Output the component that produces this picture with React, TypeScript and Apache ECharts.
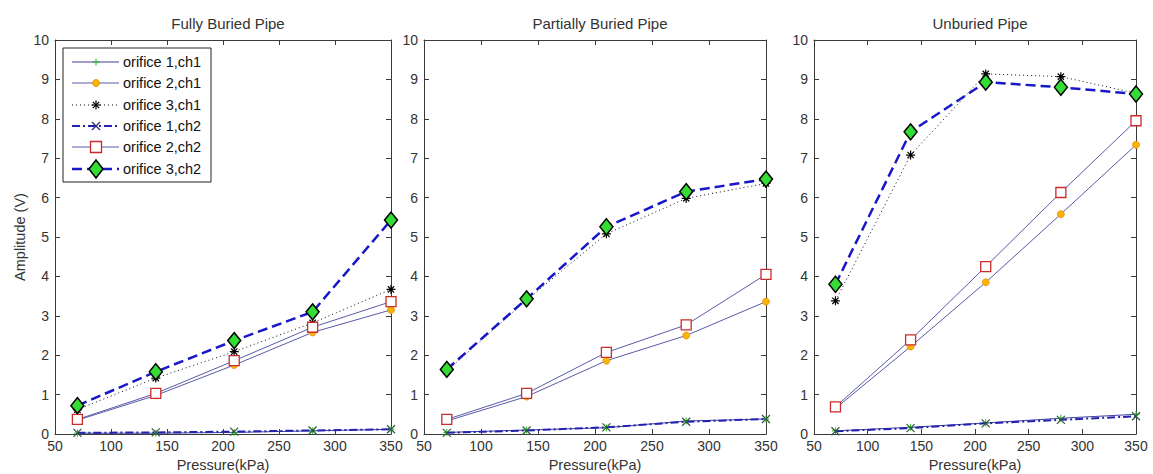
import React, { useEffect, useRef } from "react";
import * as echarts from "echarts";

const pressures = [70, 140, 210, 280, 350];
const panelTitles = ["Fully Buried Pipe", "Partially Buried Pipe", "Unburied Pipe"];
const seriesNames = ["orifice 1,ch1", "orifice 2,ch1", "orifice 3,ch1", "orifice 1,ch2", "orifice 2,ch2", "orifice 3,ch2"];
const xTicks = { min: 50, max: 350, interval: 50 };
const yTicks = { min: 0, max: 10, interval: 1 };

// Fully Buried Pipe
const fullyO1Ch1 = [0.02, 0.02, 0.04, 0.08, 0.12];
const fullyO2Ch1 = [0.35, 0.98, 1.75, 2.58, 3.15];
const fullyO3Ch1 = [0.62, 1.42, 2.09, 2.82, 3.67];
const fullyO1Ch2 = [0.03, 0.04, 0.06, 0.09, 0.12];
const fullyO2Ch2 = [0.37, 1.03, 1.86, 2.71, 3.36];
const fullyO3Ch2 = [0.72, 1.58, 2.37, 3.1, 5.43];

// Partially Buried Pipe
const partO1Ch1 = [0.04, 0.1, 0.16, 0.33, 0.38];
const partO2Ch1 = [0.33, 0.95, 1.86, 2.5, 3.36];
const partO3Ch1 = [1.6, 3.4, 5.08, 5.98, 6.36];
const partO1Ch2 = [0.03, 0.09, 0.17, 0.31, 0.38];
const partO2Ch2 = [0.37, 1.03, 2.07, 2.77, 4.05];
const partO3Ch2 = [1.64, 3.43, 5.26, 6.15, 6.47];

// Unburied Pipe
const unO1Ch1 = [0.08, 0.17, 0.28, 0.4, 0.5];
const unO2Ch1 = [0.65, 2.22, 3.85, 5.58, 7.34];
const unO3Ch1 = [3.38, 7.08, 9.14, 9.07, 8.65];
const unO1Ch2 = [0.07, 0.15, 0.27, 0.36, 0.45];
const unO2Ch2 = [0.69, 2.39, 4.25, 6.13, 7.95];
const unO3Ch2 = [3.8, 7.67, 8.93, 8.8, 8.63];

const panelData = [
  [fullyO1Ch1, fullyO2Ch1, fullyO3Ch1, fullyO1Ch2, fullyO2Ch2, fullyO3Ch2],
  [partO1Ch1, partO2Ch1, partO3Ch1, partO1Ch2, partO2Ch2, partO3Ch2],
  [unO1Ch1, unO2Ch1, unO3Ch1, unO1Ch2, unO2Ch2, unO3Ch2],
];

const grids = [
  { left: 55, top: 40, width: 336, height: 394 },
  { left: 424, top: 40, width: 342, height: 394 },
  { left: 814, top: 40, width: 322, height: 394 },
];

const FONT = "Liberation Sans, Arial, sans-serif";
const TXT = "#333";
const AX = "#3a3a3a";

const PLUS = "path://M5,0L5,10M0,5L10,5";
const STAR = "path://M5,0L5,10M0,5L10,5M1.5,1.5L8.5,8.5M1.5,8.5L8.5,1.5";
const CROSS = "path://M0,0L10,10M0,10L10,0";

const styles: any[] = [
  {
    lineStyle: { color: "#4040a0", width: 1, type: "solid" },
    symbol: PLUS, symbolSize: 7,
    itemStyle: { color: "none", borderColor: "#22bb22", borderWidth: 1 },
    z: 3,
  },
  {
    lineStyle: { color: "#5a5aa8", width: 1, type: "solid" },
    symbol: "circle", symbolSize: 7,
    itemStyle: { color: "#f7b500", borderColor: "#f08a10", borderWidth: 0.8 },
    z: 4,
  },
  {
    lineStyle: { color: "#111", width: 1, type: [1, 3] },
    symbol: STAR, symbolSize: 9,
    itemStyle: { color: "none", borderColor: "#000", borderWidth: 1.2 },
    z: 5,
  },
  {
    lineStyle: { color: "#2222b0", width: 2, type: [8, 3, 2, 3] },
    symbol: CROSS, symbolSize: 8,
    itemStyle: { color: "none", borderColor: "#2e5a3a", borderWidth: 1.2 },
    z: 6,
  },
  {
    lineStyle: { color: "#5a5aa8", width: 1, type: "solid" },
    symbol: "rect", symbolSize: 10,
    itemStyle: { color: "#fff", borderColor: "#cc2b2b", borderWidth: 1.3 },
    z: 7,
  },
  {
    lineStyle: { color: "#1818c8", width: 2.5, type: [10, 5] },
    symbol: "diamond", symbolSize: [13, 16],
    itemStyle: { color: "#33dd33", borderColor: "#000", borderWidth: 1.5 },
    z: 8,
  },
];

function legendGraphics(): any[] {
  const bx = 63, by = 48, bw = 148, bh = 134;
  const rowY = [62, 83, 105, 126, 147, 169];
  const x1 = 72, x2 = 119, mx = 96;
  const els: any[] = [
    { type: "rect", shape: { x: bx, y: by, width: bw, height: bh }, style: { fill: "#fff", stroke: "#222", lineWidth: 1 } },
  ];
  seriesNames.forEach((name, i) => {
    const y = rowY[i];
    const st = styles[i];
    const dash = Array.isArray(st.lineStyle.type) ? st.lineStyle.type : null;
    els.push({
      type: "line",
      shape: { x1, y1: y, x2, y2: y },
      style: { stroke: st.lineStyle.color, lineWidth: st.lineStyle.width, lineDash: dash },
    });
    if (i === 0) {
      els.push({ type: "line", shape: { x1: mx - 3.5, y1: y, x2: mx + 3.5, y2: y }, style: { stroke: "#22bb22", lineWidth: 1 } });
      els.push({ type: "line", shape: { x1: mx, y1: y - 3.5, x2: mx, y2: y + 3.5 }, style: { stroke: "#22bb22", lineWidth: 1 } });
    } else if (i === 1) {
      els.push({ type: "circle", shape: { cx: mx, cy: y, r: 3.5 }, style: { fill: "#f7b500", stroke: "#f08a10", lineWidth: 0.8 } });
    } else if (i === 2) {
      const r = 4.5, d = 3.2;
      [[0, -r, 0, r], [-r, 0, r, 0], [-d, -d, d, d], [-d, d, d, -d]].forEach((s) =>
        els.push({ type: "line", shape: { x1: mx + s[0], y1: y + s[1], x2: mx + s[2], y2: y + s[3] }, style: { stroke: "#000", lineWidth: 1.2 } })
      );
    } else if (i === 3) {
      const r = 4;
      [[-r, -r, r, r], [-r, r, r, -r]].forEach((s) =>
        els.push({ type: "line", shape: { x1: mx + s[0], y1: y + s[1], x2: mx + s[2], y2: y + s[3] }, style: { stroke: "#2e2e7a", lineWidth: 1.2 } })
      );
    } else if (i === 4) {
      els.push({ type: "rect", shape: { x: mx - 5.5, y: y - 5.5, width: 11, height: 11 }, style: { fill: "#fff", stroke: "#cc2b2b", lineWidth: 1.3 } });
    } else {
      els.push({
        type: "polygon",
        shape: { points: [[mx, y - 9], [mx + 7, y], [mx, y + 9], [mx - 7, y]] },
        style: { fill: "#33dd33", stroke: "#000", lineWidth: 1.5 },
      });
    }
    els.push({
      type: "text",
      x: 123, y,
      style: { text: name, fill: "#111", font: `14.5px ${FONT}`, textVerticalAlign: "middle", verticalAlign: "middle" },
    });
  });
  return [{ type: "group", z: 100, children: els }];
}

export default function App() {
  const ref = useRef<HTMLDivElement>(null);
  useEffect(() => {
    if (!ref.current) return;
    const chart = echarts.init(ref.current, undefined, { renderer: "svg" });
    const xAxis: any[] = [];
    const yAxis: any[] = [];
    const series: any[] = [];
    grids.forEach((g, p) => {
      const common = { min: xTicks.min, max: xTicks.max, interval: xTicks.interval, gridIndex: p, type: "value" };
      xAxis.push({
        ...common,
        position: "bottom",
        axisLine: { show: true, onZero: false, lineStyle: { color: AX, width: 1 } },
        axisTick: { show: true, inside: true, length: 5, lineStyle: { color: AX } },
        axisLabel: { show: true, margin: 5, color: TXT, fontSize: 14, fontFamily: FONT },
        splitLine: { show: false },
        name: "Pressure(kPa)",
        nameLocation: "middle",
        nameGap: 20,
        nameTextStyle: { color: TXT, fontSize: 14.5, fontFamily: FONT },
      });
      xAxis.push({
        ...common,
        position: "top",
        axisLine: { show: true, onZero: false, lineStyle: { color: AX, width: 1 } },
        axisTick: { show: true, inside: true, length: 5, lineStyle: { color: AX } },
        axisLabel: { show: false },
        splitLine: { show: false },
      });
      const ycommon = { min: yTicks.min, max: yTicks.max, interval: yTicks.interval, gridIndex: p, type: "value" };
      yAxis.push({
        ...ycommon,
        position: "left",
        axisLine: { show: true, onZero: false, lineStyle: { color: AX, width: 1 } },
        axisTick: { show: true, inside: true, length: 5, lineStyle: { color: AX } },
        axisLabel: { show: true, margin: 6, color: TXT, fontSize: 14, fontFamily: FONT },
        splitLine: { show: false },
        ...(p === 0
          ? {
              name: "Amplitude (V)",
              nameLocation: "middle",
              nameGap: 28,
              nameRotate: 90,
              nameTextStyle: { color: TXT, fontSize: 14.5, fontFamily: FONT },
            }
          : {}),
      });
      yAxis.push({
        ...ycommon,
        position: "right",
        axisLine: { show: true, onZero: false, lineStyle: { color: AX, width: 1 } },
        axisTick: { show: true, inside: true, length: 5, lineStyle: { color: AX } },
        axisLabel: { show: false },
        splitLine: { show: false },
      });
      panelData[p].forEach((vals, s) => {
        const st = styles[s];
        series.push({
          type: "line",
          name: seriesNames[s],
          xAxisIndex: p * 2,
          yAxisIndex: p * 2,
          data: pressures.map((x, k) => [x, vals[k]]),
          symbol: st.symbol,
          symbolSize: st.symbolSize,
          showAllSymbol: true,
          lineStyle: st.lineStyle,
          itemStyle: st.itemStyle,
          z: st.z,
          emphasis: { disabled: true },
        });
      });
    });
    chart.setOption({
      animation: false,
      backgroundColor: "#fff",
      title: panelTitles.map((t, p) => ({
        text: t,
        left: grids[p].left + grids[p].width / 2,
        top: 11,
        textAlign: "center",
        textStyle: { color: TXT, fontSize: 15, fontWeight: "normal", fontFamily: FONT },
      })),
      grid: grids.map((g) => ({ ...g, containLabel: false, outerBoundsMode: "none" })),
      xAxis,
      yAxis,
      series,
      graphic: legendGraphics(),
    });
    return () => chart.dispose();
  }, []);
  return <div ref={ref} style={{ position: "fixed", left: 0, top: 0, width: 1153, height: 474 }} />;
}
